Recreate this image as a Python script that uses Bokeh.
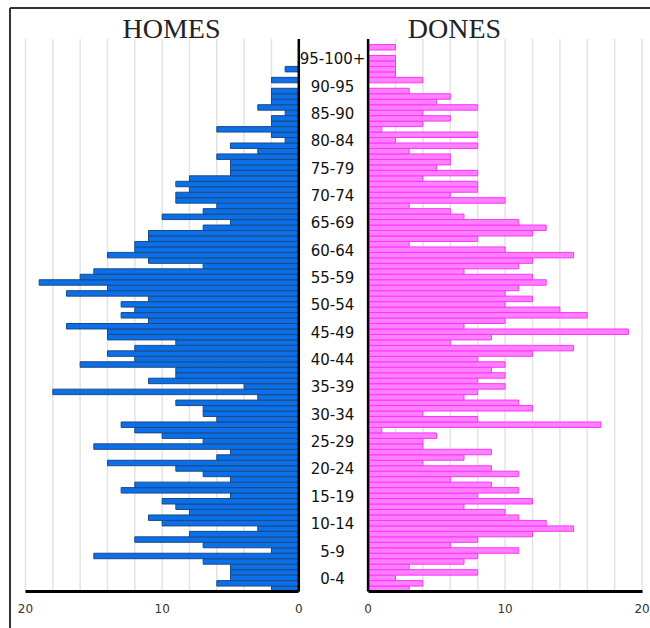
from bokeh.plotting import figure
from bokeh.models import Range1d, LinearAxis, FixedTicker
from bokeh.core.properties import value
from bokeh.embed import file_html
from bokeh.resources import INLINE

# ---------------- data ----------------
ages = list(range(101))
homes = [2, 6, 5, 5, 5, 7, 15, 2, 7, 12,
         8, 3, 10, 11, 8, 9, 10, 5, 13, 12,
         5, 7, 9, 14, 6, 5, 15, 7, 10, 12,
         13, 6, 7, 7, 9, 3, 18, 4, 11, 9,
         9, 16, 12, 14, 12, 9, 14, 14, 17, 11,
         13, 12, 13, 11, 17, 14, 19, 16, 15, 7,
         11, 14, 12, 12, 11, 11, 7, 5, 10, 7,
         6, 9, 9, 8, 9, 8, 5, 5, 5, 6,
         3, 5, 1, 2, 6, 2, 2, 1, 3, 2,
         2, 2, 0, 2, 0, 1, 0, 0, 0, 0,
         0]
dones = [3, 4, 2, 8, 3, 7, 8, 11, 6, 8,
         12, 15, 13, 11, 10, 7, 12, 8, 11, 9,
         6, 11, 9, 4, 7, 9, 4, 4, 5, 1,
         17, 8, 4, 12, 11, 7, 8, 10, 8, 10,
         9, 10, 8, 12, 15, 6, 9, 19, 7, 10,
         16, 14, 10, 12, 10, 11, 13, 12, 7, 11,
         12, 15, 10, 3, 8, 12, 13, 11, 7, 6,
         3, 10, 6, 8, 8, 4, 8, 5, 6, 6,
         3, 8, 2, 8, 1, 4, 6, 4, 8, 5,
         6, 3, 0, 4, 2, 2, 2, 2, 0, 2,
         0]
group_labels = ["0-4", "5-9", "10-14", "15-19", "20-24", "25-29", "30-34",
                "35-39", "40-44", "45-49", "50-54", "55-59", "60-64", "65-69",
                "70-74", "75-79", "80-84", "85-90", "90-95", "95-100+"]
group_mid_age = [2 + 5 * i for i in range(len(group_labels))]
axis_ticks = [0, 10, 20]
grid_vals = list(range(0, 21, 2))
titles = ["HOMES", "DONES"]

# ---------------- layout (page pixels) ----------------
W, H = 650, 628
PX0, PY0 = 0, 0
L_ZERO, L_PPU = 298.3, 13.665      # HOMES panel: value 0 position, px per unit (grows leftwards)
R_ZERO, R_PPU = 367.6, 13.70       # DONES panel
Y_ZERO, Y_PPU = 588.3, 5.47        # centre of age-0 row, px per year


def vr(px):   # page x -> DONES units
    return (px - R_ZERO) / R_PPU


def vl(px):   # page x -> HOMES units
    return (L_ZERO - px) / L_PPU


def ry(py):   # page y -> age units
    return (Y_ZERO - py) / Y_PPU


p = figure(width=W, height=H,
           x_range=Range1d(vr(PX0), vr(PX0 + W)),
           y_range=Range1d(ry(PY0 + H), ry(PY0)),
           output_backend="svg", toolbar_location=None,
           x_axis_location=None, y_axis_location=None,
           min_border=0, outline_line_color=None,
           background_fill_color="white", border_fill_color="white")
p.extra_x_ranges = {"homes": Range1d(vl(PX0), vl(PX0 + W))}
p.grid.grid_line_color = None

top_age, bot_age = ages[-1] + 0.5, ages[0] - 0.5

# grid lines
grid_color = "#e3e3e3"
p.segment(x0=grid_vals, x1=grid_vals, y0=bot_age, y1=top_age,
          line_color=grid_color, line_width=1.5, x_range_name="homes")
p.segment(x0=grid_vals, x1=grid_vals, y0=bot_age, y1=top_age,
          line_color=grid_color, line_width=1.5)

# bars
p.hbar(y=ages, left=0, right=homes, height=1,
       fill_color="#0a6fe8", line_color="#1d4a80", line_width=1,
       x_range_name="homes")
p.hbar(y=ages, left=0, right=dones, height=1,
       fill_color="#ff80ff", line_color="#ff33ff", line_width=1)

# vertical zero axes
p.segment(x0=[0], x1=[0], y0=bot_age, y1=top_age, line_color="black",
          line_width=2.5, x_range_name="homes")
p.segment(x0=[0], x1=[0], y0=bot_age, y1=top_age, line_color="black",
          line_width=2.5)

# bottom axes
for rng in ("homes", "default"):
    ax = LinearAxis(x_range_name=rng, ticker=FixedTicker(ticks=axis_ticks),
                    fixed_location=bot_age, bounds=(0, 20),
                    axis_line_width=3, axis_line_color="black",
                    major_tick_line_color=None, minor_tick_line_color=None,
                    major_tick_out=0, major_tick_in=0,
                    major_label_standoff=12,
                    major_label_text_font="DejaVu Sans",
                    major_label_text_font_size="12px",
                    major_label_text_color="#333333")
    p.add_layout(ax, "below")

# age group labels
p.text(x=[vr(332)] * len(group_labels), y=group_mid_age, text=group_labels,
       text_align="center", text_baseline="middle",
       text_font=value("DejaVu Sans"), text_font_size="15px",
       text_color="#111111")

# titles
p.text(x=[vl(171)], y=[ry(27.5)], text=[titles[0]], x_range_name="homes",
       text_align="center", text_baseline="middle",
       text_font=value("Liberation Serif"), text_font_size="28px",
       text_color="#222222")
p.text(x=[vr(454)], y=[ry(27.5)], text=[titles[1]],
       text_align="center", text_baseline="middle",
       text_font=value("Liberation Serif"), text_font_size="28px",
       text_color="#222222")

# outer frame lines (top and left)
p.segment(x0=[vr(9.5)], x1=[vr(W)], y0=[ry(7.5)], y1=[ry(7.5)],
          line_color="#333333", line_width=2)
p.segment(x0=[vr(9.5)], x1=[vr(9.5)], y0=[ry(7.5)], y1=[ry(H)],
          line_color="#333333", line_width=2)

open("out.html", "w").write(file_html(p, INLINE))
